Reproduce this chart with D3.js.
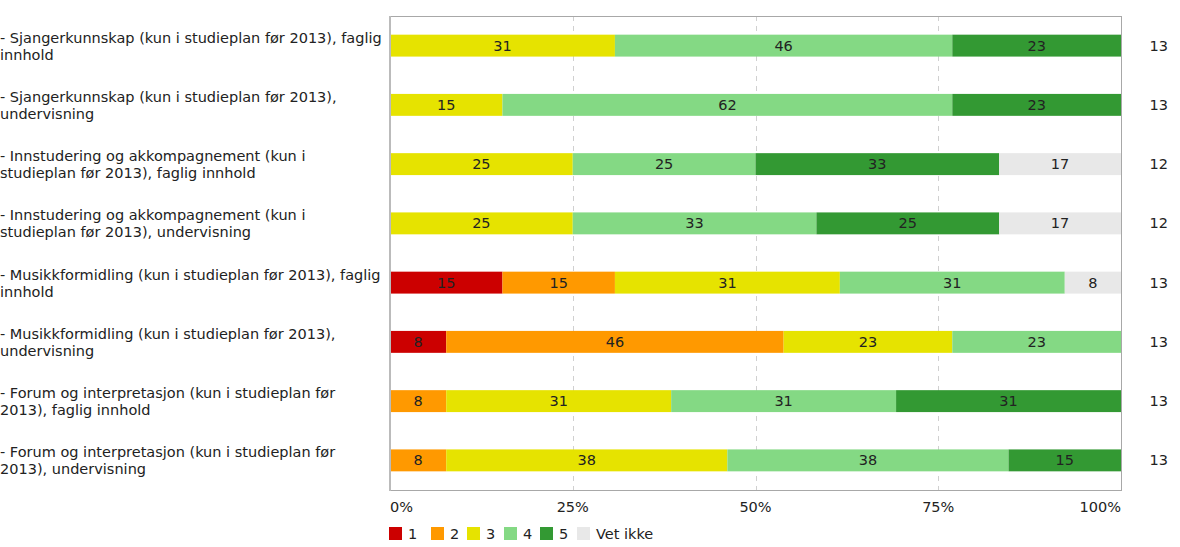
<!DOCTYPE html>
<html><head><meta charset="utf-8">
<script src="https://cdn.jsdelivr.net/npm/d3@7"></script>
<style>body{margin:0;background:#fff}svg{display:block;font-family:"DejaVu Sans",Verdana,sans-serif}</style>
</head><body><svg id="c" width="1180" height="547"></svg>
<script>
const categories = [
  ["- Sjangerkunnskap (kun i studieplan før 2013), faglig", "innhold"],
  ["- Sjangerkunnskap (kun i studieplan før 2013),", "undervisning"],
  ["- Innstudering og akkompagnement (kun i", "studieplan før 2013), faglig innhold"],
  ["- Innstudering og akkompagnement (kun i", "studieplan før 2013), undervisning"],
  ["- Musikkformidling (kun i studieplan før 2013), faglig", "innhold"],
  ["- Musikkformidling (kun i studieplan før 2013),", "undervisning"],
  ["- Forum og interpretasjon (kun i studieplan før", "2013), faglig innhold"],
  ["- Forum og interpretasjon (kun i studieplan før", "2013), undervisning"]
];
const seriesNames = ["1", "2", "3", "4", "5", "Vet ikke"];
const seriesColors = ["#cc0000", "#ff9900", "#e6e300", "#84d984", "#339933", "#e8e8e8"];
// answer counts per category (percent labels = count / n)
const s1 = [0, 0, 0, 0, 2, 1, 0, 0];
const s2 = [0, 0, 0, 0, 2, 6, 1, 1];
const s3 = [4, 2, 3, 3, 4, 3, 4, 5];
const s4 = [6, 8, 3, 4, 4, 3, 4, 5];
const s5 = [3, 3, 4, 3, 0, 0, 4, 2];
const sVet = [0, 0, 2, 2, 1, 0, 0, 0];
const nTotals = [13, 13, 12, 12, 13, 13, 13, 13];
const tickValues = [0, 0.25, 0.5, 0.75, 1];
const tickLabels = ["0%", "25%", "50%", "75%", "100%"];

const FS = 14.5;
const series = [s1, s2, s3, s4, s5, sVet];
const svg = d3.select("#c");
const L = 390, R = 1121, T = 16, B = 490;
const x = d3.scaleLinear().domain([0, 1]).range([L, R]);
const y = d3.scaleBand().domain(d3.range(categories.length)).range([T, B]).paddingInner(0.63).paddingOuter(0.315);

// gridlines
svg.append("g").selectAll("line").data(tickValues.slice(1, -1)).join("line")
  .attr("x1", d => Math.round(x(d)) + 0.5).attr("x2", d => Math.round(x(d)) + 0.5)
  .attr("y1", T).attr("y2", B)
  .attr("stroke", "#d0d0d0").attr("stroke-dasharray", "5,5");

// bars
const rows = categories.map((c, i) => {
  let acc = 0;
  return series.map((s, k) => {
    const v = s[i] / nTotals[i];
    const seg = {row: i, k, x0: acc, x1: acc + v, count: s[i]};
    acc += v;
    return seg;
  }).filter(d => d.count > 0);
});
const segs = rows.flat();
svg.append("g").selectAll("rect").data(segs).join("rect")
  .attr("x", d => x(d.x0)).attr("width", d => x(d.x1) - x(d.x0))
  .attr("y", d => y(d.row)).attr("height", y.bandwidth())
  .attr("fill", d => seriesColors[d.k]);
svg.append("g").selectAll("text").data(segs).join("text")
  .attr("x", d => (x(d.x0) + x(d.x1)) / 2).attr("y", d => y(d.row) + y.bandwidth() / 2 + 5)
  .attr("text-anchor", "middle").attr("font-size", FS).attr("fill", "#222")
  .text(d => Math.round(d.count / nTotals[d.row] * 100));

// frame
svg.append("rect").attr("x", L + 0.5).attr("y", T + 0.5).attr("width", R - L).attr("height", B - T)
  .attr("fill", "none").attr("stroke", "#a8a8a8");
svg.append("line").attr("x1", L).attr("x2", L).attr("y1", T).attr("y2", B + 1)
  .attr("stroke", "#bbbbbb").attr("stroke-width", 2);

// category labels
const lab = svg.append("g").selectAll("text").data(categories).join("text")
  .attr("x", 0).attr("y", (d, i) => y(i) + y.bandwidth() / 2 - 3)
  .attr("font-size", FS).attr("fill", "#222");
lab.selectAll("tspan").data(d => d).join("tspan")
  .attr("x", 0).attr("dy", (d, j) => j === 0 ? 0 : 17).text(d => d);

// totals
svg.append("g").selectAll("text").data(nTotals).join("text")
  .attr("x", 1168).attr("y", (d, i) => y(i) + y.bandwidth() / 2 + 5)
  .attr("text-anchor", "end").attr("font-size", FS).attr("fill", "#222").text(d => d);

// x axis labels
svg.append("g").selectAll("text").data(tickValues).join("text")
  .attr("x", d => x(d)).attr("y", 512)
  .attr("text-anchor", (d, i) => i === 0 ? "start" : i === tickValues.length - 1 ? "end" : "middle")
  .attr("font-size", FS).attr("fill", "#222").text((d, i) => tickLabels[i]);

// legend
const legX = [389, 431, 467, 504, 540, 577];
const leg = svg.append("g").selectAll("g").data(seriesNames).join("g")
  .attr("transform", (d, i) => `translate(${legX[i]},527)`);
leg.append("rect").attr("width", 13).attr("height", 13).attr("fill", (d, i) => seriesColors[i]);
leg.append("text").attr("x", 19).attr("y", 12).attr("font-size", FS).attr("fill", "#222").text(d => d);
</script></body></html>
